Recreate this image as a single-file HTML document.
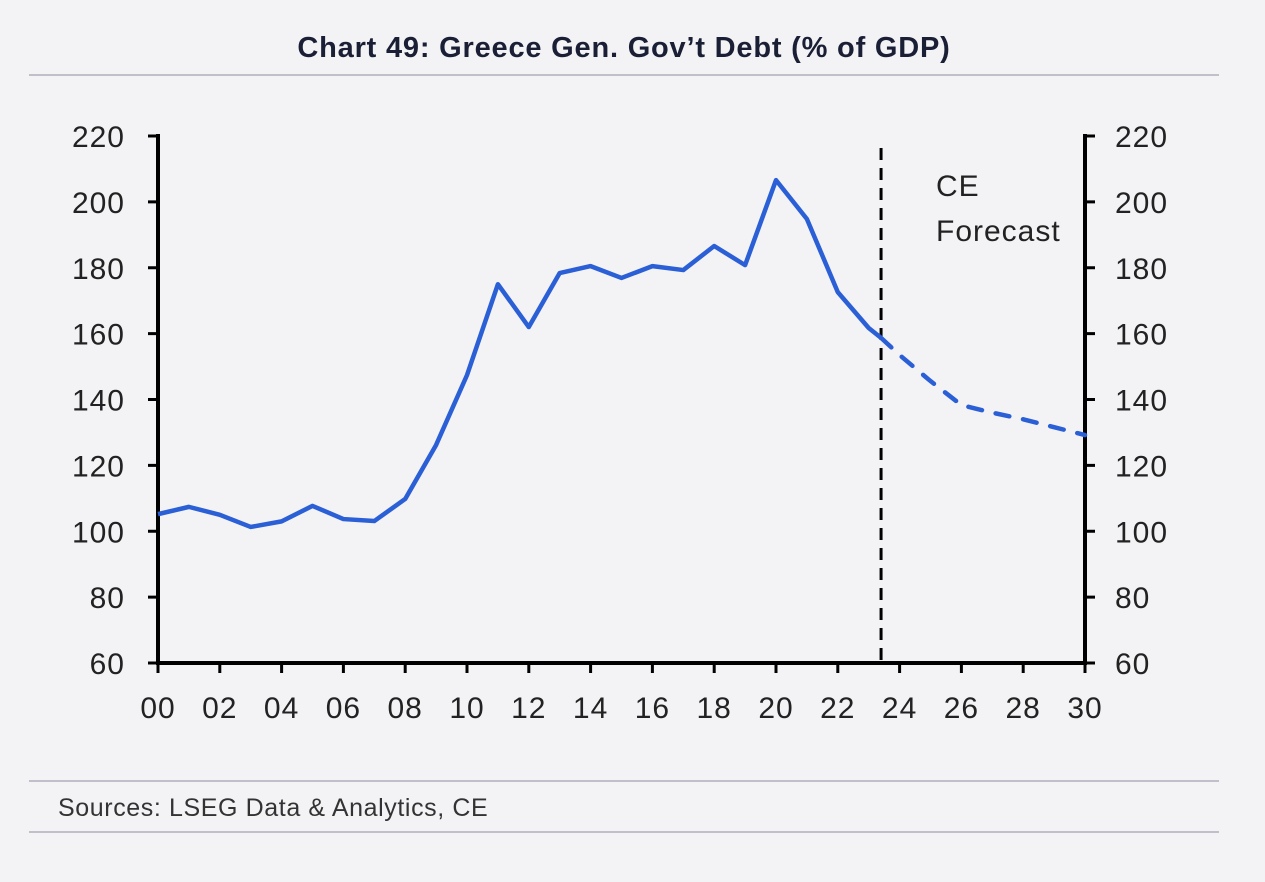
<!DOCTYPE html>
<html><head><meta charset="utf-8"><style>
html,body{margin:0;padding:0;background:#f3f3f5;}
body{width:1265px;height:877px;overflow:hidden;font-family:"Liberation Sans",sans-serif;}
</style></head><body>
<svg width="1265" height="877" xmlns="http://www.w3.org/2000/svg">
<rect width="1265" height="877" fill="#f3f3f5"/>
<text x="624" y="57" text-anchor="middle" font-size="29" font-weight="bold" letter-spacing="0.8" fill="#1a1f36">Chart 49: Greece Gen. Gov’t Debt (% of GDP)</text>
<line x1="29" y1="75" x2="1219" y2="75" stroke="#8c8ca0" stroke-width="1"/>
<line x1="29" y1="781" x2="1219" y2="781" stroke="#8c8ca0" stroke-width="1"/>
<line x1="29" y1="832" x2="1219" y2="832" stroke="#8c8ca0" stroke-width="1"/>
<text x="58" y="816" font-size="25" letter-spacing="0.6" fill="#333">Sources: LSEG Data &amp; Analytics, CE</text>
<g id="plot"></g>
</svg>
<script>
const yTicks=[60,80,100,120,140,160,180,200,220];
const xTickYears=[0,2,4,6,8,10,12,14,16,18,20,22,24,26,28,30];
const xTickLabels=["00","02","04","06","08","10","12","14","16","18","20","22","24","26","28","30"];
const histYears=[0,1,2,3,4,5,6,7,8,9,10,11,12,13,14,15,16,17,18,19,20,21,22,23,23.4];
const histValues=[105.2,107.4,105,101.3,103,107.7,103.7,103.1,109.8,126.2,147.4,175,162,178.4,180.5,176.9,180.5,179.3,186.6,180.8,206.6,194.8,172.6,161.7,158.7];
const fcYears=[23.4,24,25,26,27,28,29,30];
const fcValues=[158.7,153.5,145.6,138.3,136,134,131.6,129.2];
const forecastStart=23.4;
const NS="http://www.w3.org/2000/svg";
const g=document.getElementById('plot');
const x=v=>158+(v-0)*(1085-158)/30;
const y=v=>663-(v-60)*(663-136)/160;
function el(t,a){const e=document.createElementNS(NS,t);for(const k in a)e.setAttribute(k,a[k]);g.appendChild(e);return e;}
let e;
e=el('line',{x1:x(0),y1:134,x2:x(0),y2:665,stroke:'#000','stroke-width':4});


e=el('line',{x1:x(30),y1:134,x2:x(30),y2:665,stroke:'#000','stroke-width':4});


e=el('line',{x1:x(0)-2,y1:y(60),x2:x(30)+2,y2:y(60),stroke:'#000','stroke-width':4});


yTicks.forEach(v=>{
 e=el('line',{x1:x(0)-10,y1:y(v),x2:x(0),y2:y(v),stroke:'#000','stroke-width':3});
 
 
 e=el('line',{x1:x(30),y1:y(v),x2:x(30)+10,y2:y(v),stroke:'#000','stroke-width':3});
 
 
 e=el('text',{x:125,y:y(v)+11,'text-anchor':'end','font-size':30,'letter-spacing':1,fill:'#222'});e.textContent=v;
 
 
 e=el('text',{x:1115,y:y(v)+11,'font-size':30,'letter-spacing':1,fill:'#222'});e.textContent=v;
 
 
});
xTickYears.forEach((v,i)=>{
 e=el('line',{x1:x(v),y1:y(60),x2:x(v),y2:y(60)+10,stroke:'#000','stroke-width':3});
 
 
 e=el('text',{x:x(v),y:718,'text-anchor':'middle','font-size':30,'letter-spacing':1,fill:'#222'});e.textContent=xTickLabels[i];
 
 
});
e=el('line',{x1:x(forecastStart),y1:148,x2:x(forecastStart),y2:y(60),stroke:'#000','stroke-width':3,'stroke-dasharray':'12,8'});


e=el('text',{x:936,y:196,'font-size':30,'letter-spacing':1,fill:'#222'});e.textContent='CE';


e=el('text',{x:936,y:241,'font-size':30,'letter-spacing':1,fill:'#222'});e.textContent='Forecast';


e=el('polyline',{points:histYears.map((v,i)=>x(v)+','+y(histValues[i])).join(' '),fill:'none',stroke:'#2b5fd6','stroke-width':4.5,'stroke-linejoin':'round'});


e=el('polyline',{points:fcYears.map((v,i)=>x(v)+','+y(fcValues[i])).join(' '),fill:'none',stroke:'#2b5fd6','stroke-width':4.5,'stroke-dasharray':'14,14','stroke-linecap':'round'});


</script>
</body></html>
